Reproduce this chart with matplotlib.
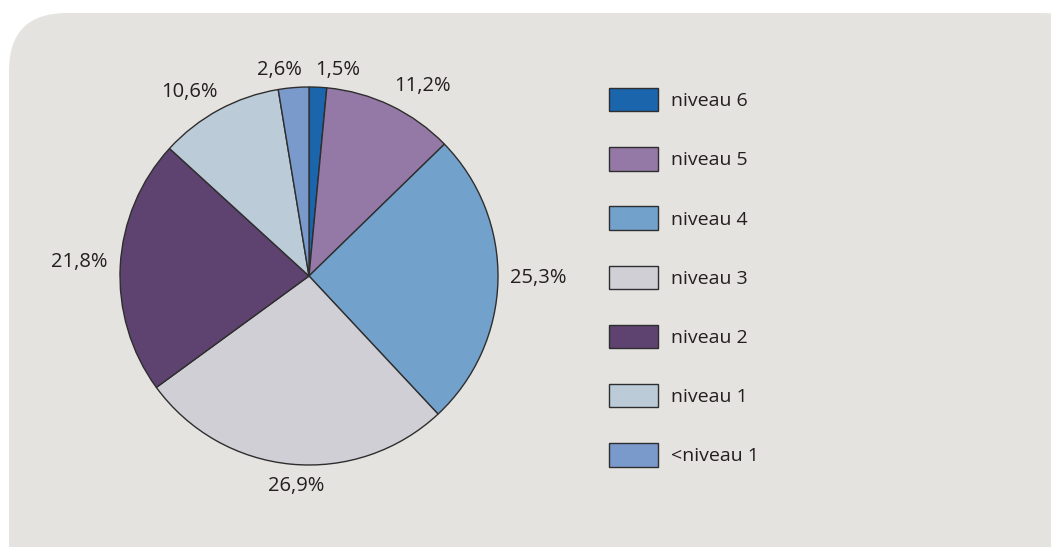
import matplotlib
matplotlib.use("Agg")
import matplotlib.pyplot as plt
from matplotlib.patches import FancyBboxPatch, Patch
from matplotlib.transforms import offset_copy

categories = ["niveau 6", "niveau 5", "niveau 4", "niveau 3", "niveau 2", "niveau 1", "<niveau 1"]
values = [1.5, 11.2, 25.3, 26.9, 21.8, 10.6, 2.6]
labels = ["1,5%", "11,2%", "25,3%", "26,9%", "21,8%", "10,6%", "2,6%"]
colors = ["#1a65ac", "#9479a6", "#72a2cc", "#d0cfd6", "#5e4370", "#bccbd8", "#7b9acc"]
# label nudges (points) away from the default radial placement
label_nudges = [(13.6, -5.3), (15.0, -1.9), (11.2, 1.9), (5.3, 1.9), (-12.0, 1.6), (-12.6, -2.6), (-8.9, -4.9)]

plt.rcParams['font.family'] = ['Open Sans', 'DejaVu Sans']

W, H = 1051, 547
fig = plt.figure(figsize=(W / 100, H / 100), dpi=100, facecolor="white")

# background panel
panel = FancyBboxPatch((9 / W, -0.2), (W + 40) / W, 1 - 13 / H + 0.2,
                       boxstyle="round,pad=0,rounding_size=0.055",
                       transform=fig.transFigure, facecolor="#e5e3e0",
                       edgecolor="none", mutation_aspect=W / H, zorder=-10)
fig.patches.append(panel)

fs_pct = 14.5
fs = 14
cx, cy, R = 309, 276, 189
ax = fig.add_axes([(cx - R) / W, 1 - (cy + R) / H, 2 * R / W, 2 * R / H])
ax.set_zorder(5)
ax.set_facecolor("none")
wedges, texts = ax.pie(values, colors=colors, startangle=90, counterclock=False,
                       labels=labels, labeldistance=1.13,
                       wedgeprops=dict(edgecolor="#2e2e2e", linewidth=1.0),
                       textprops=dict(fontsize=fs_pct, color="#231f20"))
ax.set_xlim(-1, 1)
ax.set_ylim(-1, 1)
ax.set_aspect("equal")
ax.axis("off")
for t, (dx, dy) in zip(texts, label_nudges):
    t.set_clip_on(False)
    t.set_ha("center")
    t.set_va("center")
    t.set_transform(offset_copy(t.get_transform(), fig=fig, x=dx, y=dy, units="points"))

handles = [Patch(facecolor=c, edgecolor="#2e2e2e", linewidth=1.0) for c in colors]
px = fs * 100 / 72
leg = fig.legend(handles, categories, loc="upper left",
                 bbox_to_anchor=(609 / W, 1 - 88 / H), bbox_transform=fig.transFigure,
                 frameon=False, fontsize=fs, borderaxespad=0, borderpad=0,
                 handlelength=49 / px, handleheight=1.2 * 24 / px,
                 labelspacing=(59.7 - 24) / px, handletextpad=13 / px,
                 labelcolor="#231f20")
leg.set_zorder(5)

fig.savefig("out.png", dpi=100, facecolor="white")
